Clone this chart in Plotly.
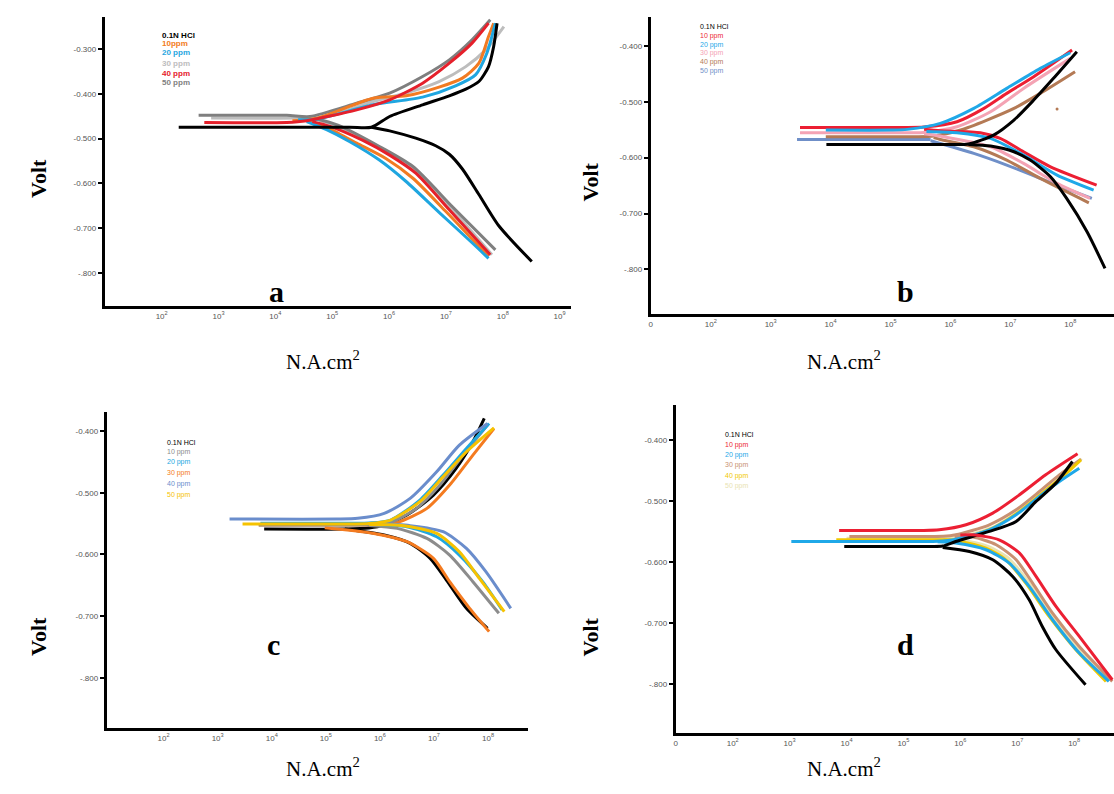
import plotly.graph_objects as go

W, H = 1114, 794

# ---------------- DATA (x = log10 of current, y = potential in volt) ----------------
SERIES = ["0.1N HCl", "10 ppm", "20 ppm", "30 ppm", "40 ppm", "50 ppm"]

# ---- panel a ----
A_LEGEND = ["0.1N HCl", "10ppm", "20 ppm", "30 ppm", "40 ppm", "50 ppm"]
A_COLORS = ["#000000", "#f27b22", "#1fa6e0", "#bdbdbd", "#e5202b", "#7f7f7f"]
A_HCL_ANO_X = [2.30, 5.30, 5.69, 6.01, 6.59, 7.06, 7.35, 7.58, 7.75, 7.84, 7.90]
A_HCL_ANO_Y = [-0.4745, -0.4745, -0.4745, -0.4506, -0.4245, -0.4044, -0.3895, -0.3723, -0.3388, -0.294, -0.242]
A_HCL_CAT_X = [5.69, 6.01, 6.47, 6.82, 7.06, 7.29, 7.58, 7.93, 8.51]
A_HCL_CAT_Y = [-0.4745, -0.4827, -0.4991, -0.5160, -0.5350, -0.5680, -0.6250, -0.6950, -0.775]
A_10_ANO_X = [4.30, 4.73, 5.72, 6.30, 6.88, 7.29, 7.58, 7.75, 7.84]
A_10_ANO_Y = [-0.460, -0.4544, -0.4096, -0.4044, -0.385, -0.3648, -0.3313, -0.2716, -0.2418]
A_10_CAT_X = [4.60, 4.90, 5.43, 5.95, 6.42, 7.00, 7.75]
A_10_CAT_Y = [-0.462, -0.475, -0.5103, -0.5450, -0.5887, -0.6632, -0.7638]
A_20_ANO_X = [4.40, 4.73, 5.72, 6.59, 7.17, 7.52, 7.72, 7.87]
A_20_ANO_Y = [-0.458, -0.4566, -0.4245, -0.4073, -0.382, -0.3574, -0.309, -0.2418]
A_20_CAT_X = [4.55, 4.90, 5.31, 5.83, 6.30, 6.88, 7.46, 7.75]
A_20_CAT_Y = [-0.462, -0.480, -0.5070, -0.5480, -0.5960, -0.6650, -0.7330, -0.7680]
A_30_ANO_X = [2.87, 4.40, 4.85, 5.72, 6.30, 6.88, 7.35, 7.70, 8.02]
A_30_ANO_Y = [-0.454, -0.454, -0.4517, -0.417, -0.398, -0.3723, -0.339, -0.3015, -0.2493]
A_30_CAT_X = [4.70, 5.10, 5.78, 6.36, 7.06, 7.81]
A_30_CAT_Y = [-0.457, -0.472, -0.5177, -0.5625, -0.652, -0.760]
A_40_ANO_X = [2.75, 4.20, 4.55, 5.43, 6.01, 6.59, 7.06, 7.46, 7.75]
A_40_ANO_Y = [-0.464, -0.464, -0.4600, -0.4357, -0.4133, -0.376, -0.3313, -0.2865, -0.2418]
A_40_CAT_X = [4.65, 4.95, 5.54, 6.01, 6.47, 7.06, 7.78]
A_40_CAT_Y = [-0.462, -0.472, -0.5040, -0.5370, -0.5774, -0.6594, -0.760]
A_50_ANO_X = [2.65, 4.20, 4.61, 5.43, 6.01, 6.59, 7.06, 7.46, 7.78]
A_50_ANO_Y = [-0.448, -0.448, -0.4506, -0.4208, -0.3984, -0.3612, -0.3239, -0.2791, -0.2344]
A_50_CAT_X = [4.70, 5.10, 5.83, 6.42, 7.11, 7.87]
A_50_CAT_Y = [-0.455, -0.470, -0.5177, -0.5625, -0.652, -0.749]

# ---- panel b ----
B_LEGEND = ["0.1N HCl", "10 ppm", "20 ppm", "30 ppm", "40 ppm", "50 ppm"]
B_COLORS = ["#000000", "#ec1f33", "#1fa8e8", "#f4a3b4", "#b47a55", "#6f8fc8"]
B_HCL_ANO_X = [3.93, 5.90, 6.30, 6.72, 7.06, 7.39, 7.72, 8.11]
B_HCL_ANO_Y = [-0.5762, -0.5762, -0.5755, -0.5595, -0.5326, -0.4968, -0.4579, -0.4102]
B_HCL_CAT_X = [6.30, 6.67, 7.06, 7.33, 7.67, 7.94, 8.28, 8.58]
B_HCL_CAT_Y = [-0.5762, -0.5792, -0.5894, -0.6043, -0.6342, -0.673, -0.7327, -0.7984]
B_10_ANO_X = [3.49, 5.20, 5.56, 6.11, 6.56, 6.94, 7.39, 8.03]
B_10_ANO_Y = [-0.5458, -0.5458, -0.5450, -0.5356, -0.5117, -0.4848, -0.455, -0.4072]
B_10_CAT_X = [5.56, 5.83, 6.50, 6.83, 7.22, 7.67, 8.44]
B_10_CAT_Y = [-0.5490, -0.5517, -0.5553, -0.5655, -0.5894, -0.6163, -0.6491]
B_20_ANO_X = [3.92, 5.00, 5.28, 5.83, 6.39, 6.94, 7.50, 8.00]
B_20_ANO_Y = [-0.5505, -0.5505, -0.5493, -0.5386, -0.5117, -0.4759, -0.440, -0.412]
B_20_CAT_X = [5.60, 6.11, 6.67, 7.22, 7.78, 8.39]
B_20_CAT_Y = [-0.5530, -0.5553, -0.5655, -0.5953, -0.6312, -0.6581]
B_30_ANO_X = [3.49, 5.20, 5.56, 6.11, 6.67, 7.22, 8.00]
B_30_ANO_Y = [-0.5553, -0.5553, -0.5550, -0.5446, -0.5177, -0.4759, -0.4221]
B_30_CAT_X = [5.56, 5.83, 6.67, 7.22, 7.78, 8.33]
B_30_CAT_Y = [-0.5570, -0.5613, -0.5804, -0.6103, -0.6461, -0.673]
B_40_ANO_X = [3.92, 5.40, 5.72, 6.17, 6.61, 7.06, 7.50, 8.08]
B_40_ANO_Y = [-0.5625, -0.5625, -0.5613, -0.5505, -0.5326, -0.5117, -0.4848, -0.446]
B_40_CAT_X = [5.72, 5.83, 6.39, 6.94, 7.50, 8.31]
B_40_CAT_Y = [-0.5640, -0.5673, -0.5804, -0.6043, -0.6372, -0.6808]
B_40_DOT_X = [7.78]
B_40_DOT_Y = [-0.513]
B_50_ANO_X = [3.44, 5.67]
B_50_ANO_Y = [-0.5673, -0.5673]
B_50_CAT_X = [5.67, 6.39, 6.94, 7.78, 8.36]
B_50_CAT_Y = [-0.5697, -0.5924, -0.6133, -0.6491, -0.673]

# ---- panel c ----
C_LEGEND = ["0.1N HCl", "10 ppm", "20 ppm", "30 ppm", "40 ppm", "50 ppm"]
C_COLORS = ["#000000", "#8c8c8c", "#22a7df", "#f47b20", "#6a8dcc", "#f6c200"]
C_HCL_ANO_X = [3.86, 5.35, 5.80, 6.08, 6.50, 6.99, 7.41, 7.72, 7.93]
C_HCL_ANO_Y = [-0.5588, -0.5588, -0.5570, -0.5523, -0.5361, -0.5037, -0.4605, -0.4173, -0.3795]
C_HCL_CAT_X = [5.35, 6.08, 6.56, 6.93, 7.23, 7.60, 7.99]
C_HCL_CAT_Y = [-0.5588, -0.5686, -0.5821, -0.6064, -0.6415, -0.6874, -0.7198]
C_10_ANO_X = [3.76, 5.50, 5.80, 6.20, 6.68, 7.11, 7.54, 7.99]
C_10_ANO_Y = [-0.5523, -0.5523, -0.5515, -0.548, -0.5253, -0.4875, -0.4389, -0.3903]
C_10_CAT_X = [5.80, 6.32, 6.87, 7.29, 7.72, 8.20]
C_10_CAT_Y = [-0.5530, -0.5577, -0.574, -0.601, -0.6442, -0.6955]
C_20_ANO_X = [3.79, 5.50, 5.80, 6.20, 6.74, 7.17, 7.60, 8.02]
C_20_ANO_Y = [-0.5496, -0.5496, -0.5490, -0.5442, -0.5118, -0.4713, -0.4281, -0.3876]
C_20_CAT_X = [5.80, 6.50, 7.05, 7.47, 7.90, 8.26]
C_20_CAT_Y = [-0.5510, -0.555, -0.5713, -0.601, -0.6442, -0.6901]
C_30_ANO_X = [3.76, 5.60, 5.90, 6.32, 6.87, 7.29, 7.72, 8.11]
C_30_ANO_Y = [-0.5523, -0.5523, -0.5515, -0.548, -0.5253, -0.4875, -0.4389, -0.3957]
C_30_CAT_X = [4.98, 5.89, 6.50, 6.99, 7.29, 7.66, 8.02]
C_30_CAT_Y = [-0.5567, -0.5659, -0.5794, -0.6064, -0.6442, -0.6874, -0.7252]
C_40_ANO_X = [3.22, 5.20, 5.59, 6.08, 6.56, 7.05, 7.47, 7.99]
C_40_ANO_Y = [-0.5426, -0.5426, -0.5415, -0.5334, -0.5091, -0.4659, -0.4227, -0.3876]
C_40_CAT_X = [5.90, 6.56, 7.17, 7.60, 7.96, 8.42]
C_40_CAT_Y = [-0.5500, -0.5534, -0.5632, -0.5902, -0.628, -0.6874]
C_50_ANO_X = [3.46, 5.50, 5.80, 6.20, 6.74, 7.17, 7.60, 8.11]
C_50_ANO_Y = [-0.5507, -0.5507, -0.5500, -0.5442, -0.5145, -0.474, -0.4335, -0.3946]
C_50_CAT_X = [5.80, 6.44, 7.05, 7.47, 7.84, 8.30]
C_50_CAT_Y = [-0.5515, -0.5534, -0.5659, -0.5956, -0.6388, -0.6928]

# ---- panel d ----
D_LEGEND = ["0.1N HCl", "10 ppm", "20 ppm", "30 ppm", "40 ppm", "50 ppm"]
D_COLORS = ["#000000", "#ec1f33", "#1fa8e8", "#c99172", "#f1c800", "#e9e3b2"]
D_HCL_ANO_X = [3.96, 5.40, 5.69, 5.92, 6.51, 6.98, 7.33, 7.68, 7.97]
D_HCL_ANO_Y = [-0.5746, -0.5746, -0.5740, -0.5664, -0.550, -0.5337, -0.5009, -0.4709, -0.4355]
D_HCL_CAT_X = [5.69, 6.16, 6.57, 6.92, 7.21, 7.44, 7.68, 8.20]
D_HCL_CAT_Y = [-0.5762, -0.5828, -0.5964, -0.6237, -0.6619, -0.7055, -0.7437, -0.801]
D_10_ANO_X = [3.87, 5.30, 5.63, 6.10, 6.57, 7.04, 7.50, 8.06]
D_10_ANO_Y = [-0.5484, -0.5484, -0.5473, -0.5391, -0.520, -0.490, -0.4573, -0.4229]
D_10_CAT_X = [6.00, 6.22, 6.68, 7.04, 7.33, 7.68, 8.09, 8.67]
D_10_CAT_Y = [-0.5560, -0.5555, -0.5637, -0.5855, -0.6237, -0.6728, -0.7219, -0.7928]
D_20_ANO_X = [3.03, 5.30, 5.60, 5.92, 6.51, 6.98, 7.39, 7.74, 8.09]
D_20_ANO_Y = [-0.5664, -0.5664, -0.5660, -0.5626, -0.5473, -0.5227, -0.4927, -0.4682, -0.4464]
D_20_CAT_X = [5.60, 5.92, 6.45, 6.86, 7.21, 7.62, 8.09, 8.61]
D_20_CAT_Y = [-0.5670, -0.5691, -0.580, -0.6019, -0.640, -0.6946, -0.7492, -0.7955]
D_30_ANO_X = [4.05, 5.40, 5.70, 5.92, 6.51, 6.98, 7.39, 7.74, 8.12]
D_30_ANO_Y = [-0.5582, -0.5582, -0.5580, -0.5555, -0.5391, -0.5146, -0.4846, -0.4573, -0.4316]
D_30_CAT_X = [5.90, 6.22, 6.63, 6.98, 7.27, 7.62, 8.09, 8.67]
D_30_CAT_Y = [-0.5585, -0.5593, -0.5718, -0.5964, -0.6346, -0.6837, -0.7383, -0.7955]
D_40_ANO_X = [3.82, 5.40, 5.70, 5.98, 6.57, 7.04, 7.44, 7.80, 8.12]
D_40_ANO_Y = [-0.5637, -0.5637, -0.5635, -0.5626, -0.5446, -0.5173, -0.4873, -0.460, -0.4327]
D_40_CAT_X = [5.70, 5.98, 6.45, 6.80, 7.15, 7.56, 8.03, 8.56]
D_40_CAT_Y = [-0.5640, -0.5664, -0.5773, -0.5964, -0.6346, -0.6891, -0.7437, -0.7955]
D_50_ANO_X = [4.00, 5.45, 5.75, 6.02, 6.60, 7.06, 7.46, 7.82, 8.13]
D_50_ANO_Y = [-0.5610, -0.5610, -0.5608, -0.5590, -0.5420, -0.5150, -0.4850, -0.4580, -0.4310]
D_50_CAT_X = [5.75, 6.02, 6.50, 6.85, 7.19, 7.60, 8.06, 8.60]
D_50_CAT_Y = [-0.5615, -0.5640, -0.5750, -0.5940, -0.6320, -0.6870, -0.7420, -0.7950]

# tick labels
Y_TICKS_A = [-0.3, -0.4, -0.5, -0.6, -0.7, -0.8]
Y_TEXT_A = ["-0.300", "-0.400", "-0.500", "-0.600", "-0.700", "-.800"]
Y_TICKS = [-0.4, -0.5, -0.6, -0.7, -0.8]
Y_TEXT = ["-0.400", "-0.500", "-0.600", "-0.700", "-.800"]
X_TICKS_A = [2, 3, 4, 5, 6, 7, 8, 9]
X_TICKS_C = [2, 3, 4, 5, 6, 7, 8]
X_TICKS_BD = [1, 2, 3, 4, 5, 6, 7, 8]

# ---------------- FIGURE ----------------
fig = go.Figure()

def px_x(p):
    return p / W

def px_y(p):
    return 1 - p / H

panels = [
    ("a", "", (103, 570), (17, 306), [1.0, 9.2], [-0.8745, -0.228], Y_TICKS_A, Y_TEXT_A, X_TICKS_A, False),
    ("b", "2", (650, 1114), (17, 314), [1.0, 8.73], [-0.880, -0.348], Y_TICKS, Y_TEXT, X_TICKS_BD, True),
    ("c", "3", (105, 527), (412, 728), [0.95, 8.74], [-0.8815, -0.369], Y_TICKS, Y_TEXT, X_TICKS_C, False),
    ("d", "4", (675, 1114), (405, 733), [1.0, 8.70], [-0.880, -0.343], Y_TICKS, Y_TEXT, X_TICKS_BD, True),
]

curves = {
    "a": (A_COLORS, [(A_HCL_ANO_X, A_HCL_ANO_Y, A_HCL_CAT_X, A_HCL_CAT_Y),
                     (A_10_ANO_X, A_10_ANO_Y, A_10_CAT_X, A_10_CAT_Y),
                     (A_20_ANO_X, A_20_ANO_Y, A_20_CAT_X, A_20_CAT_Y),
                     (A_30_ANO_X, A_30_ANO_Y, A_30_CAT_X, A_30_CAT_Y),
                     (A_40_ANO_X, A_40_ANO_Y, A_40_CAT_X, A_40_CAT_Y),
                     (A_50_ANO_X, A_50_ANO_Y, A_50_CAT_X, A_50_CAT_Y)]),
    "b": (B_COLORS, [(B_HCL_ANO_X, B_HCL_ANO_Y, B_HCL_CAT_X, B_HCL_CAT_Y),
                     (B_10_ANO_X, B_10_ANO_Y, B_10_CAT_X, B_10_CAT_Y),
                     (B_20_ANO_X, B_20_ANO_Y, B_20_CAT_X, B_20_CAT_Y),
                     (B_30_ANO_X, B_30_ANO_Y, B_30_CAT_X, B_30_CAT_Y),
                     (B_40_ANO_X, B_40_ANO_Y, B_40_CAT_X, B_40_CAT_Y),
                     (B_50_ANO_X, B_50_ANO_Y, B_50_CAT_X, B_50_CAT_Y)]),
    "c": (C_COLORS, [(C_HCL_ANO_X, C_HCL_ANO_Y, C_HCL_CAT_X, C_HCL_CAT_Y),
                     (C_10_ANO_X, C_10_ANO_Y, C_10_CAT_X, C_10_CAT_Y),
                     (C_20_ANO_X, C_20_ANO_Y, C_20_CAT_X, C_20_CAT_Y),
                     (C_30_ANO_X, C_30_ANO_Y, C_30_CAT_X, C_30_CAT_Y),
                     (C_40_ANO_X, C_40_ANO_Y, C_40_CAT_X, C_40_CAT_Y),
                     (C_50_ANO_X, C_50_ANO_Y, C_50_CAT_X, C_50_CAT_Y)]),
    "d": (D_COLORS, [(D_HCL_ANO_X, D_HCL_ANO_Y, D_HCL_CAT_X, D_HCL_CAT_Y),
                     (D_10_ANO_X, D_10_ANO_Y, D_10_CAT_X, D_10_CAT_Y),
                     (D_20_ANO_X, D_20_ANO_Y, D_20_CAT_X, D_20_CAT_Y),
                     (D_30_ANO_X, D_30_ANO_Y, D_30_CAT_X, D_30_CAT_Y),
                     (D_40_ANO_X, D_40_ANO_Y, D_40_CAT_X, D_40_CAT_Y),
                     (D_50_ANO_X, D_50_ANO_Y, D_50_CAT_X, D_50_CAT_Y)]),
}

order = {
    "a": [3, 5, 1, 2, 4, 0],
    "b": [5, 4, 3, 1, 2, 0],
    "c": [0, 3, 1, 2, 4, 5],
    "d": [5, 3, 4, 2, 0, 1],
}

legends = {
    "a": (A_LEGEND, A_COLORS, 158, [35, 44, 53, 63, 73, 82], 8, True),
    "b": (B_LEGEND, B_COLORS, 697, [26, 36, 45, 53, 62, 71], 7, False),
    "c": (C_LEGEND, C_COLORS, 163, [442, 452, 462, 473, 484, 495], 7, False),
    "d": (D_LEGEND, D_COLORS, 722, [434, 445, 455, 465, 476, 486], 7, False),
}

label_pos = {"a": (265, 291), "b": (916, 291), "c": (263, 663), "d": (916, 663)}
volt_pos = {"a": (22, 157), "b": (590, 160), "c": (22, 658), "d": (590, 658)}
xlab_pos = {"a": (283, 360), "b": (883, 360), "c": (283, 783), "d": (883, 783)}

annotations = []
for name, sfx, xd, yd, xr, yr, ytv, ytt, xtv, zero in panels:
    xa = "x" + sfx
    ya = "y" + sfx
    colors, data = curves[name]
    for i in order[name]:
        ax_, ay_, cx_, cy_ = data[i]
        for xs, ys in ((ax_, ay_), (cx_, cy_)):
            fig.add_trace(go.Scatter(
                x=xs, y=ys, mode="lines", xaxis=xa, yaxis=ya,
                line=dict(color=colors[i], width=3, shape="spline", smoothing=0.7),
                showlegend=False, hoverinfo="skip"))
    if name == "b":
        fig.add_trace(go.Scatter(x=B_40_DOT_X, y=B_40_DOT_Y, mode="markers", xaxis=xa, yaxis=ya,
                                 marker=dict(color=B_COLORS[4], size=3), showlegend=False,
                                 hoverinfo="skip"))

    xtext = [("0" if (zero and v == 1) else "10<sup>%d</sup>" % v) for v in xtv]
    xkey = "xaxis" + sfx
    ykey = "yaxis" + sfx
    fig.update_layout(**{
        xkey: dict(domain=[px_x(xd[0]), min(1.0, px_x(xd[1]))], range=xr, anchor=ya,
                   showgrid=False, zeroline=False, showline=True, linecolor="black",
                   linewidth=3, tickmode="array", tickvals=xtv, ticktext=xtext,
                   ticks="", tickfont=dict(size=8, color="#555", family="Liberation Sans")),
        ykey: dict(domain=[px_y(yd[1]), px_y(yd[0])], range=yr, anchor=xa,
                   showgrid=False, zeroline=False, showline=True, linecolor="black",
                   linewidth=3, tickmode="array", tickvals=ytv, ticktext=ytt,
                   ticks="outside", ticklen=4, tickwidth=2, tickcolor="black",
                   tickfont=dict(size=8, color="#555", family="Liberation Sans")),
    })

    leg_text, leg_col, lx, lys, lsz, bold = legends[name]
    for t, c, yy in zip(leg_text, leg_col, lys):
        annotations.append(dict(
            x=px_x(lx), y=px_y(yy), xref="paper", yref="paper", xanchor="left", yanchor="middle",
            text=("<b>%s</b>" % t) if bold else t, showarrow=False,
            font=dict(size=lsz, color=c, family="Liberation Sans")))

    lxp, lyp = label_pos[name]
    annotations.append(dict(x=px_x(lxp), y=px_y(lyp), xref="paper", yref="paper",
                            text="<b>%s</b>" % name, showarrow=False,
                            font=dict(size=30, color="black", family="Liberation Serif")))
    vx, vy = volt_pos[name]
    annotations.append(dict(x=px_x(vx), y=px_y(vy), xref="paper", yref="paper",
                            text="<b>Volt</b>", textangle=-90, showarrow=False,
                            font=dict(size=22, color="black", family="Liberation Serif")))
    nx, ny = xlab_pos[name]
    annotations.append(dict(x=px_x(nx), y=px_y(ny), xref="paper", yref="paper",
                            text="N.A.cm<sup>2</sup>", showarrow=False,
                            font=dict(size=21, color="black", family="Liberation Serif")))

fig.update_layout(
    width=W, height=H, margin=dict(l=0, r=0, t=0, b=0),
    paper_bgcolor="white", plot_bgcolor="white",
    annotations=annotations, showlegend=False,
)

fig.write_html("out.html", config={"displayModeBar": False},
               post_script="document.body.style.margin='0';document.body.style.overflow='hidden';")
